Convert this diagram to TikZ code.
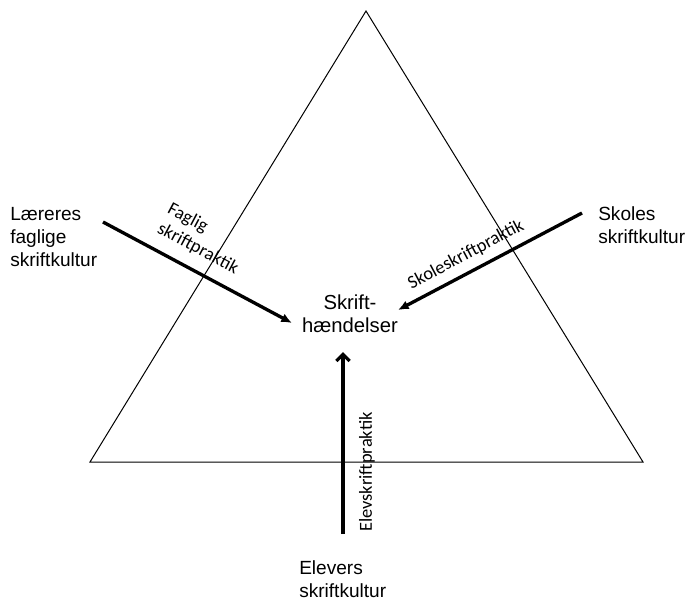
\documentclass[tikz,border=0pt]{standalone}
\usepackage{fontspec}
\setmainfont{Liberation Sans}
\newfontfamily\praksisfont{Carlito}
\usetikzlibrary{positioning,arrows.meta}
\tikzset{kultur node/.style={align=left,inner sep=0pt,font=\fontsize{14.3}{17.3}\selectfont},
	praksis node/.style={align=center,inner sep=0pt,font=\praksisfont\fontsize{13.8}{16.5}\selectfont},
	flow/.style={line width=2.5pt},}

\begin{document}
\begin{tikzpicture}[x=0.75pt,y=-0.75pt]
	\useasboundingbox (0,0) rectangle (687,600);

	% triangle
	\coordinate (top) at (366,11);
	\coordinate (bl) at (90,462);
	\coordinate (br) at (643,462);
	\draw[line width=0.75pt] (top) -- (bl) -- (br) -- cycle;

	% cultures
	\node[kultur node, anchor=west] (laerer) at (10,237) {Læreres\\faglige\\skriftkultur};
	\node[kultur node, anchor=west] (skole) at (598,225) {Skoles\\skriftkultur};
	\node[kultur node, anchor=west] (elev) at (299,579) {Elevers\\skriftkultur};
	\node[kultur node, align=center, font=\fontsize{15.2}{17.5}\selectfont] (haendelse) at (350,314) {Skrift-\\hændelser};

	\coordinate (l1) at (103,222);
	\coordinate (l2) at (292,323);
	\coordinate (s1) at (582,213);
	\coordinate (s2) at (398,310);
	\coordinate (e1) at (343,534);
	\coordinate (e2) at (343,352);

	\draw[flow,-{Latex[length=8pt,width=7pt]}] (l1) -- (l2);
	\draw[flow,-{Latex[length=8pt,width=7pt]}] (s1) -- (s2);
	\draw[flow,-{Straight Barb[length=5pt,width=10pt]}] (e1) -- (e2);

	% practices
	\node[praksis node, align=left, rotate=-28] (faglig) at (203,239) {Faglig\\skriftpraktik};
	\node[praksis node, rotate=28] (skoleprak) at (466,255) {Skoleskriftpraktik};
	\node[praksis node, rotate=90] (elevprak) at (367,472) {Elevskriftpraktik};
\end{tikzpicture}
\end{document}
